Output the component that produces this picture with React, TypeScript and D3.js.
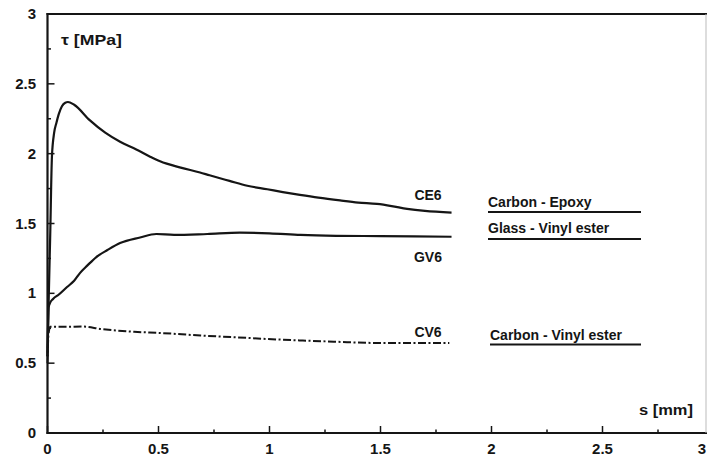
import React from "react";
import * as d3 from "d3";

const W = 707;
const H = 457;

// s [mm], tau [MPa]
const ce6S = [0, 0.004, 0.012, 0.02, 0.03, 0.04, 0.05, 0.065, 0.08, 0.092, 0.12, 0.19, 0.26, 0.327, 0.4, 0.46, 0.507, 0.6, 0.687, 0.73, 0.82, 0.9, 0.99, 1.06, 1.137, 1.22, 1.318, 1.4, 1.484, 1.55, 1.62, 1.7, 1.82];
const ce6T = [0.55, 0.86, 1.4, 1.98, 2.15, 2.22, 2.28, 2.34, 2.365, 2.37, 2.35, 2.24, 2.15, 2.085, 2.03, 1.98, 1.945, 1.9, 1.865, 1.845, 1.805, 1.77, 1.745, 1.725, 1.705, 1.685, 1.665, 1.65, 1.64, 1.625, 1.605, 1.59, 1.578];

const gv6S = [0, 0.005, 0.011, 0.025, 0.05, 0.088, 0.12, 0.146, 0.18, 0.22, 0.27, 0.327, 0.417, 0.49, 0.57, 0.72, 0.867, 1.0, 1.14, 1.3, 1.5, 1.65, 1.82];
const gv6T = [0.55, 0.9, 0.93, 0.96, 0.99, 1.045, 1.09, 1.145, 1.2, 1.26, 1.31, 1.36, 1.4, 1.425, 1.418, 1.425, 1.434, 1.43, 1.418, 1.412, 1.41, 1.408, 1.405];

const cv6S = [0, 0.004, 0.012, 0.08, 0.16, 0.24, 0.39, 0.51, 0.69, 0.85, 0.99, 1.15, 1.29, 1.51, 1.65, 1.81];
const cv6T = [0.5, 0.7, 0.76, 0.76, 0.762, 0.745, 0.725, 0.716, 0.698, 0.685, 0.673, 0.662, 0.654, 0.644, 0.644, 0.644];

const majorTicks = [0, 0.5, 1, 1.5, 2, 2.5, 3];
const minorTicks = [0.25, 0.75, 1.25, 1.75, 2.25, 2.75];
const tickLabels = ["0", "0.5", "1", "1.5", "2", "2.5", "3"];

const curveLabels = ["CE6", "GV6", "CV6"];
const legendNames = ["Carbon - Epoxy", "Glass - Vinyl ester", "Carbon - Vinyl ester"];

const x = d3.scaleLinear().domain([0, 3]).range([47.5, 713.5]);
const y = d3.scaleLinear().domain([0, 3]).range([433, 14]);

const toPts = (s: number[], t: number[]) => s.map((v, i) => [v, t[i]] as [number, number]);
const line = d3
  .line<[number, number]>()
  .x((d) => x(d[0]))
  .y((d) => y(d[1]))
  .curve(d3.curveMonotoneX);

const font = "'Liberation Sans', Arial, sans-serif";
const ink = "#151515";

export default function App() {
  const x0 = x(0);
  const y0 = y(0);
  const yTop = y(3);
  return (
    <svg
      width={W}
      height={H}
      viewBox={`0 0 ${W} ${H}`}
      style={{ position: "absolute", left: 0, top: 0, background: "#fff" }}
    >
      <rect x={0} y={0} width={W} height={H} fill="#fff" />
      {/* frame */}
      <line x1={x0} x2={x0} y1={yTop - 1} y2={y0 + 1} stroke={ink} strokeWidth={2.2} />
      <line x1={x0 - 1} x2={W} y1={y0} y2={y0} stroke={ink} strokeWidth={2.2} />
      <line x1={x0 - 1} x2={W} y1={yTop} y2={yTop} stroke={ink} strokeWidth={2.2} />
      <line x1={706} x2={706} y1={yTop} y2={y0} stroke="#bbb" strokeWidth={1} />

      {/* y ticks */}
      {majorTicks.map((v, i) => (
        <g key={"ym" + i}>
          <line x1={x0} x2={x0 + 7} y1={y(v)} y2={y(v)} stroke={ink} strokeWidth={1.5} />
          <text
            x={36}
            y={y(v) + 5}
            textAnchor="end"
            fontFamily={font}
            fontWeight="bold"
            fontSize={15}
            fill={ink}
          >
            {tickLabels[i]}
          </text>
        </g>
      ))}
      {minorTicks.map((v, i) => (
        <line key={"yn" + i} x1={x0} x2={x0 + 3.5} y1={y(v)} y2={y(v)} stroke={ink} strokeWidth={1.5} />
      ))}

      {/* x ticks */}
      {majorTicks.map((v, i) => (
        <g key={"xm" + i}>
          <line x1={x(v)} x2={x(v)} y1={y0} y2={y0 - 7} stroke={ink} strokeWidth={1.5} />
          <text
            x={i === majorTicks.length - 1 ? W - 1 : x(v)}
            y={454}
            textAnchor={i === majorTicks.length - 1 ? "end" : "middle"}
            fontFamily={font}
            fontWeight="bold"
            fontSize={15}
            fill={ink}
          >
            {tickLabels[i]}
          </text>
        </g>
      ))}
      {minorTicks.map((v, i) => (
        <line key={"xn" + i} x1={x(v)} x2={x(v)} y1={y0} y2={y0 - 3.5} stroke={ink} strokeWidth={1.5} />
      ))}

      {/* axis titles */}
      <text x={61} y={45} fontFamily={font} fontWeight="bold" fontSize={15} fill={ink} textLength={61} lengthAdjust="spacingAndGlyphs">
        τ [MPa]
      </text>
      <text x={639} y={415} fontFamily={font} fontWeight="bold" fontSize={14} fill={ink} textLength={54} lengthAdjust="spacingAndGlyphs">
        s [mm]
      </text>

      {/* curves */}
      <path d={line(toPts(ce6S, ce6T)) || ""} fill="none" stroke={ink} strokeWidth={2.2} strokeLinejoin="round" />
      <path d={line(toPts(gv6S, gv6T)) || ""} fill="none" stroke={ink} strokeWidth={2.2} strokeLinejoin="round" />
      <path
        d={line(toPts(cv6S, cv6T)) || ""}
        fill="none"
        stroke={ink}
        strokeWidth={2}
        strokeDasharray="8,2.5,2,2.5"
      />

      {/* curve labels */}
      {[200, 262, 337].map((yy, i) => (
        <text key={"cl" + i} x={428} y={yy} textAnchor="middle" fontFamily={font} fontWeight="bold" fontSize={14} fill={ink}>
          {curveLabels[i]}
        </text>
      ))}

      {/* legend */}
      {[
        { ty: 207, ly: 212, x1: 488 },
        { ty: 233, ly: 239, x1: 488 },
        { ty: 340, ly: 344.5, x1: 490 },
      ].map((d, i) => (
        <g key={"lg" + i}>
          <text x={d.x1} y={d.ty} fontFamily={font} fontWeight="bold" fontSize={14} fill={ink}>
            {legendNames[i]}
          </text>
          <line x1={d.x1} x2={641} y1={d.ly} y2={d.ly} stroke={ink} strokeWidth={2} />
        </g>
      ))}
    </svg>
  );
}
